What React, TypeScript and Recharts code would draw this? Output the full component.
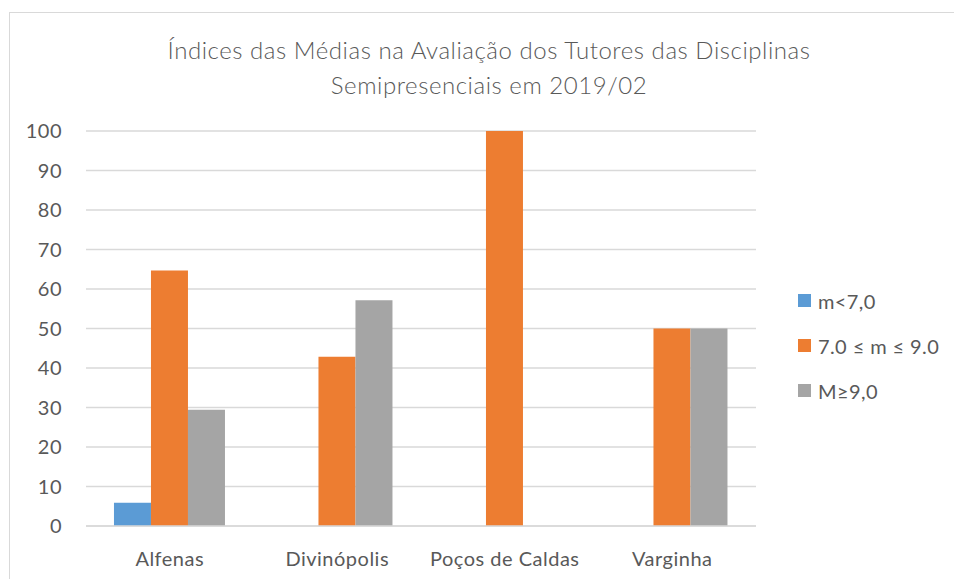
import React from "react";
import { BarChart, Bar, XAxis, YAxis, CartesianGrid } from "recharts";

// Campus and percentage of tutors per average band
const CAMPI = ["Alfenas", "Divinópolis", "Poços de Caldas", "Varginha"];
const BELOW_7 = [5.88, 0, 0, 0];
const BETWEEN_7_9 = [64.71, 42.86, 100, 50];
const ABOVE_9 = [29.41, 57.14, 0, 50];
const Y_TICKS = [0, 10, 20, 30, 40, 50, 60, 70, 80, 90, 100];

const SERIES = [
  { key: "low", name: "m<7,0", color: "#5b9bd5" },
  { key: "mid", name: "7.0 ≤ m ≤ 9.0", color: "#ed7d31" },
  { key: "high", name: "M≥9,0", color: "#a5a5a5" },
];

const data = CAMPI.map((c, i) => ({
  campus: c,
  low: BELOW_7[i],
  mid: BETWEEN_7_9[i],
  high: ABOVE_9[i],
}));

const FONT = "Lato, 'Open Sans', sans-serif";
const TEXT = "#595959";

export default function App() {
  return (
    <div style={{ position: "absolute", left: 0, top: 0, width: 954, height: 579, background: "#fff", overflow: "hidden" }}>
      <div style={{ position: "absolute", left: 9, top: 12, width: 960, height: 600, border: "1px solid #d9d9d9" }} />
      <div style={{ position: "absolute", left: 0, top: 32, width: 978, textAlign: "center",
        fontFamily: FONT, fontSize: 24, fontWeight: 300, letterSpacing: 0.55, color: TEXT, lineHeight: "35px" }}>
        Índices das Médias na Avaliação dos Tutores das Disciplinas<br />Semipresenciais em 2019/02
      </div>
      <BarChart width={954} height={579} data={data}
        margin={{ top: 131, right: 198, bottom: 23, left: 0 }}
        barCategoryGap="16.7%" barGap={0}>
        <CartesianGrid vertical={false} stroke="#d9d9d9" strokeWidth={1.3} />
        <XAxis dataKey="campus" axisLine={{ stroke: "#d9d9d9", strokeWidth: 1.3 }} tickLine={false}
          tick={{ fill: TEXT, fontSize: 20, fontFamily: FONT, letterSpacing: 0.5 }} tickMargin={20} interval={0} />
        <YAxis width={86} domain={[0, 100]} ticks={Y_TICKS} axisLine={false} tickLine={false}
          tick={{ fill: TEXT, fontSize: 20, fontFamily: FONT, letterSpacing: 0.5 }} tickMargin={18} interval={0} />
        {SERIES.map(s => (
          <Bar key={s.key} dataKey={s.key} name={s.name} fill={s.color} isAnimationActive={false} />
        ))}
      </BarChart>
      <div style={{ position: "absolute", left: 798, top: 278, fontFamily: FONT, fontSize: 20,
        letterSpacing: 0.4, color: TEXT }}>
        {SERIES.map(s => (
          <div key={s.key} style={{ display: "flex", alignItems: "center", height: 45 }}>
            <span style={{ width: 13, height: 13, background: s.color, marginRight: 7, display: "inline-block" }} />
            <span>{s.name}</span>
          </div>
        ))}
      </div>
    </div>
  );
}
